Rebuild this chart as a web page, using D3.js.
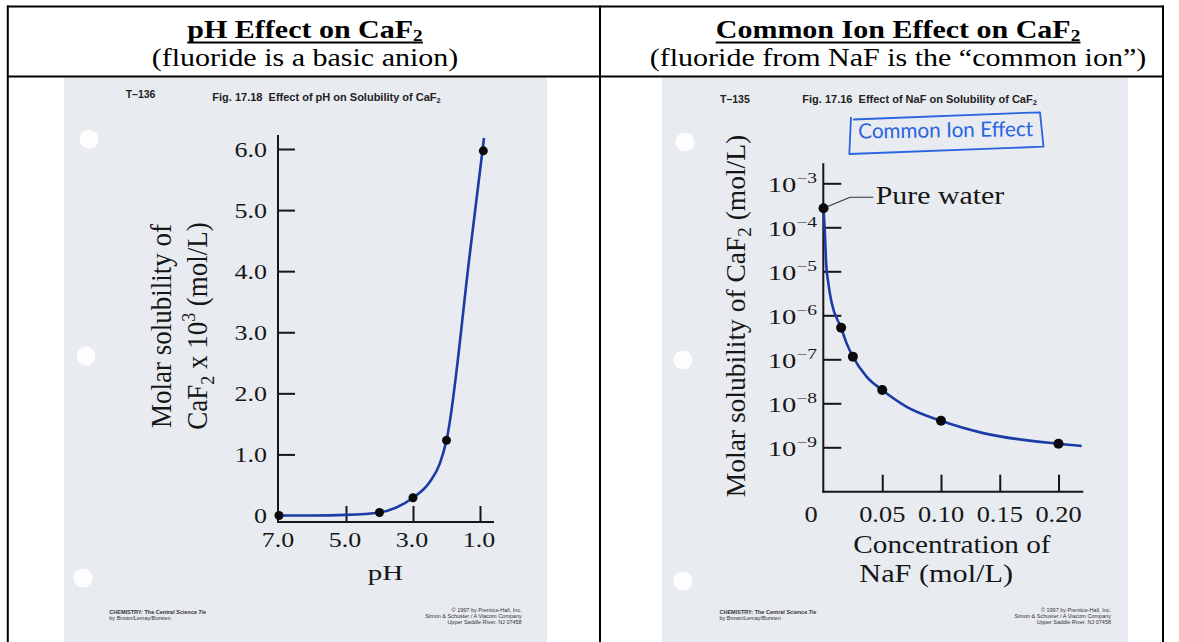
<!DOCTYPE html>
<html><head><meta charset="utf-8">
<script src="https://cdn.jsdelivr.net/npm/d3@7"></script>
<style>
html,body{margin:0;padding:0;background:#fff;}
svg{display:block;}
</style></head><body>
<svg id="chart" width="1179" height="642"></svg>
<script>
// ================= DATA =================
// Left panel: pH effect
const phTicks = [7.0, 5.0, 3.0, 1.0];
const phTickLabels = ["7.0", "5.0", "3.0", "1.0"];
const solTicks = [0, 1, 2, 3, 4, 5, 6];
const solTickLabels = ["0", "1.0", "2.0", "3.0", "4.0", "5.0", "6.0"];
const phPointPH = [7.0, 4.0, 3.0, 2.0, 0.90];
const phPointSol = [0.0, 0.05, 0.29, 1.23, 5.97];
const phCurvePH = [7.0, 6.0, 5.0, 4.0, 3.5, 3.0, 2.5, 2.2, 2.0, 1.30, 0.88];
const phCurveSol = [0.0, 0.0, 0.01, 0.05, 0.13, 0.29, 0.55, 0.85, 1.23, 4.30, 6.18];

// Right panel: common ion effect
const nafTicks = [0, 0.05, 0.10, 0.15, 0.20];
const nafTickLabels = ["0", "0.05", "0.10", "0.15", "0.20"];
const logTicks = [1e-3, 1e-4, 1e-5, 1e-6, 1e-7, 1e-8, 1e-9];
const logTickExps = ["\u22123", "\u22124", "\u22125", "\u22126", "\u22127", "\u22128", "\u22129"];
const nafPointConc = [0, 0.015, 0.025, 0.05, 0.10, 0.20];
const nafPointSol = [2.7e-4, 5.2e-7, 1.15e-7, 2.0e-8, 4.0e-9, 1.2e-9];
const nafCurveConc = [0, 0.0013, 0.0021, 0.0041, 0.0070, 0.015, 0.0197, 0.025, 0.0368, 0.05, 0.0708, 0.10, 0.136, 0.20, 0.2197];
const nafCurveSol = [2.7e-4, 6.1e-5, 1.8e-5, 5.4e-6, 1.9e-6, 5.2e-7, 2.3e-7, 1.15e-7, 4.0e-8, 2.0e-8, 8.3e-9, 4.0e-9, 2.1e-9, 1.2e-9, 1.07e-9];

// Header texts
const headerTitles = ["pH Effect on CaF", "Common Ion Effect on CaF"];
const headerSubtitles = ["(fluoride is a basic anion)", "(fluoride from NaF is the \u201ccommon ion\u201d)"];

// ================= DRAWING =================
const W = 1179, H = 642;
const svg = d3.select("#chart");
const serif = "'Liberation Serif','Times New Roman',serif";
const sans = "'Liberation Sans',Arial,sans-serif";
const ink = "#161616";
const blue = "#1b3ba6";
const photoFill = "#e8ebf0";

svg.append("rect").attr("width", W).attr("height", H).attr("fill", "#fff");

// scanned transparencies
svg.append("rect").attr("x", 64).attr("y", 77.5).attr("width", 483).attr("height", H - 77.5).attr("fill", photoFill);
svg.append("rect").attr("x", 662).attr("y", 77.5).attr("width", 466).attr("height", H - 77.5).attr("fill", photoFill);
[[89, 139], [86, 356], [83, 578], [685, 142], [683, 360], [683, 581]].forEach(p => {
  svg.append("circle").attr("cx", p[0]).attr("cy", p[1]).attr("r", 9.5).attr("fill", "#fdfdfe");
});

// table grid
const grid = svg.append("g").attr("stroke", "#000").attr("stroke-width", 2);
grid.append("line").attr("x1", 7).attr("x2", 1164).attr("y1", 6.5).attr("y2", 6.5);
grid.append("line").attr("x1", 7).attr("x2", 1164).attr("y1", 76.5).attr("y2", 76.5);
[7.8, 600, 1163].forEach(x => grid.append("line").attr("x1", x).attr("x2", x).attr("y1", 5.5).attr("y2", H));

// headers (the page is stretched horizontally, so text is widened)
function header(cx, title, subtitle) {
  const g = svg.append("g").attr("transform", `translate(${cx},38) scale(1.2,1)`);
  const t = g.append("text").attr("x", 0).attr("y", 0).attr("text-anchor", "middle")
    .attr("font-family", serif).attr("font-weight", "bold").attr("font-size", 25).attr("fill", "#000");
  t.append("tspan").text(title);
  t.append("tspan").attr("font-size", 16).attr("dy", 3).text("2");
  const bb = t.node().getBBox();
  g.append("line").attr("x1", bb.x).attr("x2", bb.x + bb.width).attr("y1", 4.5).attr("y2", 4.5)
    .attr("stroke", "#000").attr("stroke-width", 1.8);
  svg.append("text").attr("transform", `translate(${cx},66) scale(1.2,1)`).attr("text-anchor", "middle")
    .attr("font-family", serif).attr("font-size", 25).attr("fill", "#000").text(subtitle);
}
header(305, headerTitles[0], headerSubtitles[0]);
header(898, headerTitles[1], headerSubtitles[1]);

// helpers
function stext(g, x, y, sx, size, anchor, str) {
  return g.append("text").attr("transform", `translate(${x},${y}) scale(${sx},1)`)
    .attr("text-anchor", anchor).attr("font-family", serif).attr("font-size", size)
    .attr("fill", ink).text(str);
}
function figCaption(g, x1, x2, y1, y2, code, caption) {
  g.append("text").attr("x", x1).attr("y", y1).attr("font-family", sans).attr("font-weight", "bold")
    .attr("font-size", 10.5).attr("fill", "#222").text(code);
  const t = g.append("text").attr("x", x2).attr("y", y2).attr("font-family", sans).attr("font-weight", "bold")
    .attr("font-size", 11).attr("fill", "#222").attr("xml:space", "preserve");
  t.append("tspan").text(caption);
  t.append("tspan").attr("font-size", 7.5).attr("dy", 2).text("2");
}
function footer(g, xl, xr) {
  const f = g.append("g").attr("font-family", sans).attr("font-size", 5.5).attr("fill", "#333");
  f.append("text").attr("x", xl).attr("y", 614).attr("font-weight", "bold").text("CHEMISTRY: The Central Science 7/e");
  f.append("text").attr("x", xl).attr("y", 620).text("by Brown/Lemay/Bursten");
  ["\u00a9 1997 by Prentice-Hall, Inc.", "Simon & Schuster / A Viacom Company", "Upper Saddle River, NJ 07458"]
    .forEach((s, i) => f.append("text").attr("x", xr).attr("y", 612 + i * 6).attr("text-anchor", "end").text(s));
}
function styleAxis(g) {
  g.select(".domain").remove();
  g.selectAll("line").attr("stroke", ink).attr("stroke-width", 2);
  g.selectAll("text").remove();
}

// ---------- LEFT CHART ----------
const gL = svg.append("g");
figCaption(gL, 125.7, 212.3, 98.3, 100.5, "T\u2013136", "Fig. 17.18  Effect of pH on Solubility of CaF");
footer(gL, 109.3, 521.7);

const xL = d3.scaleLinear().domain([7, 1]).range([279, 480]);
const yL = d3.scaleLinear().domain([0, 6]).range([515.5, 149]);

gL.append("line").attr("x1", 278).attr("x2", 278).attr("y1", 135).attr("y2", 523).attr("stroke", ink).attr("stroke-width", 2);
gL.append("line").attr("x1", 277).attr("x2", 494).attr("y1", 522).attr("y2", 522).attr("stroke", ink).attr("stroke-width", 2);
gL.append("g").attr("transform", "translate(278,0)")
  .call(d3.axisRight(yL).tickValues(solTicks.filter(v => v > 0)).tickSize(17)).call(styleAxis);
gL.append("g").attr("transform", "translate(0,522)")
  .call(d3.axisTop(xL).tickValues(phTicks.filter(v => v !== 7)).tickSize(16)).call(styleAxis);

solTicks.forEach((v, i) => stext(gL, 267, yL(v) + 7.5, 1.3, 20, "end", solTickLabels[i]));
phTicks.forEach((v, i) => stext(gL, xL(v) - 1, 547, 1.3, 20, "middle", phTickLabels[i]));
stext(gL, 385.5, 580, 1.45, 20, "middle", "pH");

gL.append("text").attr("transform", "translate(171,326) rotate(-90) scale(1,1.1)")
  .attr("text-anchor", "middle").attr("font-family", serif).attr("font-size", 27).attr("fill", ink)
  .text("Molar solubility of");
const t2 = gL.append("text").attr("transform", "translate(207,326) rotate(-90) scale(1,1.1)")
  .attr("text-anchor", "middle").attr("font-family", serif).attr("font-size", 27).attr("fill", ink);
t2.append("tspan").text("CaF");
t2.append("tspan").attr("font-size", 18).attr("dy", 6).text("2");
t2.append("tspan").attr("dy", -6).text(" x 10");
t2.append("tspan").attr("font-size", 18).attr("dy", -11).text("3");
t2.append("tspan").attr("dy", 11).text(" (mol/L)");

const lineL = d3.line().x(d => xL(d[0])).y(d => yL(d[1])).curve(d3.curveMonotoneX);
gL.append("path").datum(d3.zip(phCurvePH, phCurveSol)).attr("d", lineL)
  .attr("fill", "none").attr("stroke", blue).attr("stroke-width", 2.6);
gL.selectAll("circle.pt").data(d3.zip(phPointPH, phPointSol)).join("circle").attr("class", "pt")
  .attr("cx", d => xL(d[0])).attr("cy", d => yL(d[1])).attr("r", 4.5).attr("fill", "#0a0a0a");

// ---------- RIGHT CHART ----------
const gR = svg.append("g");
figCaption(gR, 720, 802.3, 102.7, 102.9, "T\u2013135", "Fig. 17.16  Effect of NaF on Solubility of CaF");
footer(gR, 719.5, 1111);

// handwritten note
const handBlue = "#2a64e0";
gR.append("path").attr("d", "M853,119.5 L1040,112.3 L1043.5,146.7 L849.3,154 L851,117")
  .attr("fill", "none").attr("stroke", handBlue).attr("stroke-width", 1.8).attr("stroke-linejoin", "round");
gR.append("text").attr("x", 858.3).attr("y", 138.5).attr("transform", "rotate(-0.8,858,138)")
  .attr("font-family", "Lato,'Liberation Sans',sans-serif").attr("font-size", 21).attr("fill", handBlue)
  .attr("textLength", 175).attr("lengthAdjust", "spacingAndGlyphs").text("Common Ion Effect");

const xR = d3.scaleLinear().domain([0, 0.2]).range([823.5, 1058.5]);
const yR = d3.scaleLog().domain([1e-3, 1e-9]).range([183.3, 447.3]);

gR.append("line").attr("x1", 823.3).attr("x2", 823.3).attr("y1", 163.3).attr("y2", 492.7).attr("stroke", ink).attr("stroke-width", 2);
gR.append("line").attr("x1", 822.3).attr("x2", 1083.3).attr("y1", 491.7).attr("y2", 491.7).attr("stroke", ink).attr("stroke-width", 2);
gR.append("g").attr("transform", "translate(823.3,0)")
  .call(d3.axisRight(yR).tickValues(logTicks).tickSize(18)).call(styleAxis);
gR.append("g").attr("transform", "translate(0,491.7)")
  .call(d3.axisTop(xR).tickValues(nafTicks.filter(v => v > 0)).tickSize(17)).call(styleAxis);

logTicks.forEach((v, i) => {
  const t = gR.append("text").attr("transform", `translate(817,${yR(v) + 8.4}) scale(1.3,1)`)
    .attr("text-anchor", "end").attr("font-family", serif).attr("font-size", 22).attr("fill", ink);
  t.append("tspan").text("10");
  t.append("tspan").attr("font-size", 15).attr("dy", -8.4).text(logTickExps[i]);
});
nafTicks.forEach((v, i) => stext(gR, v === 0 ? xR(v) - 12.5 : xR(v), 521.7, 1.1, 24, "middle", nafTickLabels[i]));
stext(gR, 853.3, 553.3, 1.17, 25, "start", "Concentration of");
stext(gR, 859.3, 581.7, 1.21, 25, "start", "NaF (mol/L)");

const tr = gR.append("text").attr("transform", "translate(745,316) rotate(-90)")
  .attr("text-anchor", "middle").attr("font-family", serif).attr("font-size", 27.5).attr("fill", ink);
tr.append("tspan").text("Molar solubility of CaF");
tr.append("tspan").attr("font-size", 19).attr("dy", 6).text("2");
tr.append("tspan").attr("dy", -6).text(" (mol/L)");

const lineR = d3.line().x(d => xR(d[0])).y(d => yR(d[1])).curve(d3.curveMonotoneX);
gR.append("path").datum(d3.zip(nafCurveConc, nafCurveSol)).attr("d", lineR)
  .attr("fill", "none").attr("stroke", blue).attr("stroke-width", 2.6);

// "Pure water" annotation
const pw = [xR(nafPointConc[0]), yR(nafPointSol[0])];
gR.append("path").attr("d", `M${pw[0]},${pw[1]} L850,197.3 L873.3,197.3`)
  .attr("fill", "none").attr("stroke", "#333").attr("stroke-width", 1.1);
stext(gR, 875.7, 204, 1.15, 26, "start", "Pure water");

gR.selectAll("circle.pt").data(d3.zip(nafPointConc, nafPointSol)).join("circle").attr("class", "pt")
  .attr("cx", d => xR(d[0])).attr("cy", d => yR(d[1])).attr("r", 5).attr("fill", "#0a0a0a");
</script>
</body></html>
